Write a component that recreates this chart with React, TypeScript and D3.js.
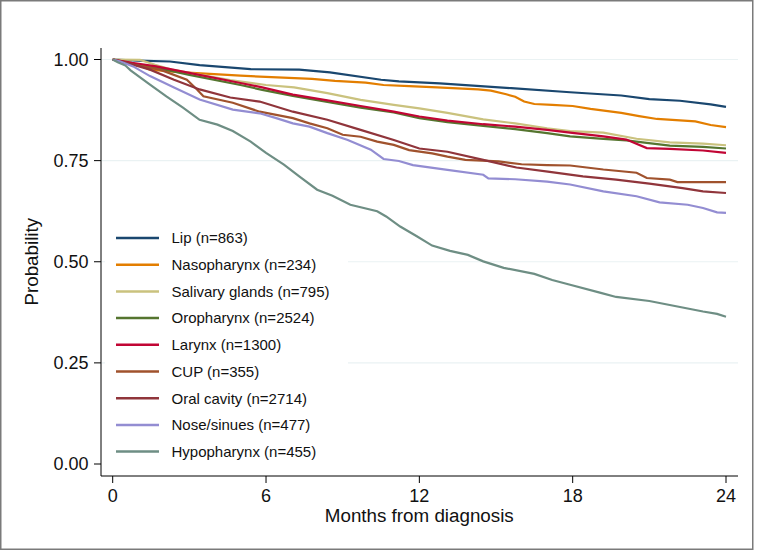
import React from "react";
import * as d3 from "d3";

// ---- Data (months, survival probability) ----
const seriesNames = [
  "Lip (n=863)",
  "Nasopharynx (n=234)",
  "Salivary glands (n=795)",
  "Oropharynx (n=2524)",
  "Larynx (n=1300)",
  "CUP (n=355)",
  "Oral cavity (n=2714)",
  "Nose/sinues (n=477)",
  "Hypopharynx (n=455)",
];

const seriesColors = [
  "#1a476f",
  "#e37e00",
  "#cac27e",
  "#55752f",
  "#c10534",
  "#a0522d",
  "#90353b",
  "#938dd2",
  "#6e8e84",
];

const lip: [number, number][] = [
  [0, 1.0], [1.0, 0.997], [2.24, 0.995], [3.4, 0.986], [5.4, 0.976], [7.3, 0.975],
  [8.5, 0.968], [10.5, 0.95], [11.2, 0.946], [12.8, 0.941], [15.6, 0.929],
  [17.9, 0.919], [19.9, 0.911], [21.0, 0.902], [22.2, 0.898], [23.4, 0.889], [24, 0.883],
];

const nasopharynx: [number, number][] = [
  [0, 1.0], [0.5, 0.995], [1.07, 0.985], [1.46, 0.975], [2.6, 0.969], [5.0, 0.96],
  [7.8, 0.952], [8.7, 0.947], [9.9, 0.943], [10.6, 0.937], [11.6, 0.934], [12.7, 0.931],
  [14.3, 0.926], [14.8, 0.923], [15.4, 0.914], [15.75, 0.908], [16.1, 0.896],
  [16.5, 0.89], [17.2, 0.888], [18.0, 0.885], [18.7, 0.878], [19.9, 0.868],
  [20.6, 0.86], [21.3, 0.853], [22.8, 0.847], [23.4, 0.838], [24, 0.833],
];

const salivary: [number, number][] = [
  [0, 1.0], [1.07, 0.999], [1.66, 0.987], [2.3, 0.975], [3.6, 0.96], [4.6, 0.949],
  [6.0, 0.937], [7.1, 0.931], [8.4, 0.917], [9.7, 0.9], [11.0, 0.888], [12.0, 0.879],
  [13.1, 0.868], [14.5, 0.852], [15.75, 0.842], [17.0, 0.83], [17.9, 0.823],
  [19.2, 0.819], [20.5, 0.804], [21.8, 0.795], [23.1, 0.792], [24, 0.788],
];

const oropharynx: [number, number][] = [
  [0, 1.0], [0.3, 0.996], [0.75, 0.99], [1.7, 0.98], [3.0, 0.962], [5.0, 0.937],
  [5.85, 0.925], [7.05, 0.91], [8.4, 0.895], [9.7, 0.881], [11.0, 0.869], [12.0, 0.855],
  [13.1, 0.845], [14.5, 0.836], [15.75, 0.828], [17.0, 0.818], [17.9, 0.81],
  [19.2, 0.804], [20.1, 0.8], [20.9, 0.794], [21.8, 0.787], [23.1, 0.784], [24, 0.78],
];

const larynx: [number, number][] = [
  [0, 1.0], [0.3, 0.997], [0.75, 0.992], [1.7, 0.983], [3.0, 0.967], [5.0, 0.942],
  [5.85, 0.931], [7.05, 0.913], [8.4, 0.899], [9.7, 0.885], [11.0, 0.871], [12.0, 0.859],
  [13.1, 0.849], [14.5, 0.84], [15.75, 0.834], [17.0, 0.826], [17.9, 0.819],
  [19.2, 0.81], [20.1, 0.802], [20.9, 0.781], [21.8, 0.779], [23.1, 0.775], [24, 0.769],
];

const cup: [number, number][] = [
  [0, 1.0], [0.4, 0.992], [1.85, 0.975], [2.9, 0.95], [3.3, 0.926], [3.55, 0.909],
  [4.7, 0.893], [5.75, 0.871], [6.4, 0.863], [7.05, 0.855], [7.7, 0.842], [8.4, 0.83],
  [9.0, 0.814], [9.7, 0.809], [10.35, 0.797], [11.0, 0.789], [11.6, 0.776],
  [12.5, 0.768], [13.1, 0.76], [13.8, 0.752], [15.1, 0.748], [16.0, 0.741],
  [17.0, 0.739], [17.9, 0.738], [19.2, 0.728], [20.5, 0.72], [20.9, 0.707],
  [21.8, 0.703], [22.1, 0.697], [24, 0.697],
];

const oralCavity: [number, number][] = [
  [0, 1.0], [0.5, 0.993], [1.46, 0.975], [2.4, 0.95], [3.4, 0.926], [4.6, 0.906],
  [5.75, 0.896], [7.05, 0.871], [8.4, 0.851], [9.7, 0.826], [11.0, 0.801], [12.0, 0.78],
  [13.1, 0.772], [14.5, 0.752], [15.8, 0.733], [17.1, 0.722], [18.4, 0.711],
  [19.7, 0.703], [21.0, 0.693], [22.3, 0.682], [23.1, 0.674], [24, 0.67],
];

const noseSinues: [number, number][] = [
  [0, 1.0], [0.3, 0.995], [0.8, 0.983], [1.46, 0.959], [2.4, 0.931], [3.4, 0.901],
  [4.7, 0.876], [5.75, 0.867], [6.4, 0.855], [7.05, 0.842], [7.7, 0.834], [8.4, 0.818],
  [9.2, 0.801], [10.1, 0.777], [10.6, 0.754], [11.2, 0.749], [11.75, 0.739],
  [13.1, 0.727], [14.5, 0.715], [14.7, 0.706], [15.75, 0.704], [17.0, 0.698],
  [17.9, 0.691], [19.2, 0.674], [20.5, 0.662], [21.4, 0.647], [22.5, 0.641],
  [23.1, 0.633], [23.65, 0.622], [24, 0.621],
];

const hypopharynx: [number, number][] = [
  [0, 1.0], [0.2, 0.993], [0.5, 0.985], [0.7, 0.973], [1.46, 0.938], [2.1, 0.909],
  [2.75, 0.881], [3.4, 0.851], [4.1, 0.839], [4.7, 0.823], [5.4, 0.797], [6.0, 0.769],
  [6.7, 0.74], [7.3, 0.711], [8.0, 0.678], [8.6, 0.663], [9.3, 0.641], [10.35, 0.625],
  [10.7, 0.612], [11.25, 0.587], [11.9, 0.563], [12.5, 0.54], [13.2, 0.527],
  [13.9, 0.517], [14.5, 0.501], [15.3, 0.485], [16.5, 0.47], [17.2, 0.455],
  [17.9, 0.443], [19.1, 0.423], [19.7, 0.413], [21.0, 0.403], [22.3, 0.387],
  [23.1, 0.377], [23.65, 0.371], [24, 0.364],
];

const seriesData = [lip, nasopharynx, salivary, oropharynx, larynx, cup, oralCavity, noseSinues, hypopharynx];

const xTicks = [0, 6, 12, 18, 24];
const yTicks = [0, 0.25, 0.5, 0.75, 1.0];
const yTickLabels = ["0.00", "0.25", "0.50", "0.75", "1.00"];

const W = 757;
const H = 553;
const FONT = "'Liberation Sans', Arial, Helvetica, sans-serif";

export default function App() {
  const x = d3.scaleLinear().domain([0, 24]).range([112.7, 726]);
  const y = d3.scaleLinear().domain([0, 1]).range([464, 59.5]);

  const axisLeft = 101;
  const axisBottom = 476;
  const axisRight = 738;
  const axisTop = 48;

  const line = d3
    .line<[number, number]>()
    .x((d) => x(d[0]))
    .y((d) => y(d[1]))
    .curve(d3.curveLinear);

  const legendX = 116;
  const legendY0 = 238;
  const legendStep = 26.7;

  return (
    <svg
      width={W}
      height={H}
      style={{ position: "absolute", left: 0, top: 0, background: "#fff" }}
      fontFamily={FONT}
    >
      <rect x={0} y={0} width={W} height={H} fill="#fff" />
      <rect x={0.75} y={0.75} width={752} height={548.5} fill="none" stroke="#7a7a7a" strokeWidth={1.5} />

      {/* gridlines */}
      {yTicks
        .filter((t) => t > 0)
        .map((t) => (
          <line
            key={"g" + t}
            x1={axisLeft}
            x2={axisRight}
            y1={y(t)}
            y2={y(t)}
            stroke="#eaf2f3"
            strokeWidth={1.2}
          />
        ))}

      {/* series */}
      {seriesData.map((d, i) => (
        <path
          key={seriesNames[i]}
          d={line(d) || ""}
          fill="none"
          stroke={seriesColors[i]}
          strokeWidth={2.2}
          strokeLinejoin="miter"
        />
      ))}

      {/* legend (white box covers gridlines) */}
      <rect x={105} y={224} width={243} height={242} fill="#fff" />
      {seriesNames.map((n, i) => {
        const cy = legendY0 + i * legendStep;
        return (
          <g key={"l" + n}>
            <line x1={legendX} x2={159} y1={cy} y2={cy} stroke={seriesColors[i]} strokeWidth={2.5} />
            <text x={171.5} y={cy + 5.3} fontSize={15} fill="#111">
              {n}
            </text>
          </g>
        );
      })}

      {/* axes */}
      <line x1={axisLeft} x2={axisLeft} y1={axisTop} y2={axisBottom} stroke="#000" strokeWidth={1} />
      <line x1={axisLeft} x2={axisRight} y1={axisBottom} y2={axisBottom} stroke="#000" strokeWidth={1} />

      {yTicks.map((t, i) => (
        <g key={"yt" + t}>
          <line x1={axisLeft - 7} x2={axisLeft} y1={y(t)} y2={y(t)} stroke="#000" strokeWidth={1} />
          <text x={88.5} y={y(t) + 6.4} fontSize={18} textAnchor="end" fill="#111">
            {yTickLabels[i]}
          </text>
        </g>
      ))}

      {xTicks.map((t) => (
        <g key={"xt" + t}>
          <line x1={x(t)} x2={x(t)} y1={axisBottom} y2={axisBottom + 7} stroke="#000" strokeWidth={1} />
          <text x={x(t)} y={501.5} fontSize={18} textAnchor="middle" fill="#111">
            {t}
          </text>
        </g>
      ))}

      <text x={419.3} y={521.5} fontSize={18.8} textAnchor="middle" fill="#111">
        Months from diagnosis
      </text>
      <text
        transform={`translate(38, ${y(0.5)}) rotate(-90)`}
        fontSize={18.8}
        textAnchor="middle"
        fill="#111"
      >
        Probability
      </text>
    </svg>
  );
}
